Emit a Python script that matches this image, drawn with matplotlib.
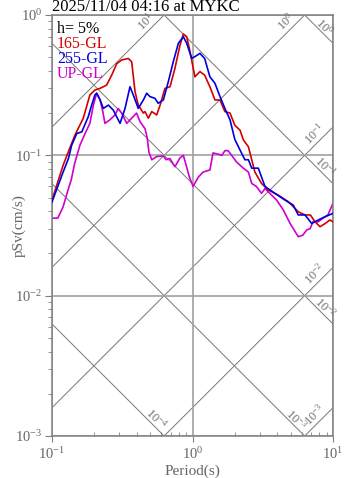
import numpy as np
import matplotlib
matplotlib.use("Agg")
import matplotlib.pyplot as plt
from matplotlib.ticker import LogLocator, LogFormatterMathtext, NullFormatter

plt.rcParams['font.family'] = 'serif'
plt.rcParams['font.serif'] = ['Liberation Serif', 'DejaVu Serif']
plt.rcParams['mathtext.fontset'] = 'custom'
plt.rcParams['mathtext.rm'] = 'Liberation Serif'

# 165-GL
t_red = [0.1, 0.12, 0.134, 0.146, 0.167, 0.186, 0.202, 0.22, 0.245, 0.266, 0.289,
         0.313, 0.349, 0.369, 0.39, 0.411, 0.447, 0.459, 0.485, 0.513, 0.556, 0.588,
         0.637, 0.692, 0.75, 0.815, 0.861, 0.91, 0.96, 1.04, 1.13, 1.22, 1.33, 1.445,
         1.57, 1.70, 1.85, 2.0, 2.18, 2.30, 2.5, 2.64, 2.78, 3.10, 3.47, 4.08, 4.81,
         5.66, 6.32, 6.9, 7.45, 8.08, 8.77, 9.5, 10.0]
sv_red = [0.048, 0.085, 0.113, 0.14, 0.184, 0.269, 0.292, 0.30, 0.317, 0.373, 0.45,
          0.478, 0.49, 0.465, 0.284, 0.228, 0.20, 0.205, 0.184, 0.205, 0.194, 0.228,
          0.30, 0.308, 0.417, 0.611, 0.732, 0.70, 0.548, 0.363, 0.395, 0.373, 0.308, 0.248,
          0.248, 0.205, 0.20, 0.164, 0.151, 0.129, 0.115, 0.093, 0.076, 0.063, 0.0566, 0.052, 0.0467,
          0.0396, 0.0376, 0.0376, 0.0336, 0.031, 0.0326, 0.0346, 0.0336]

# 255-GL
t_blue = [0.1, 0.12, 0.131, 0.138, 0.15, 0.163, 0.181, 0.19, 0.202, 0.208, 0.22,
          0.232, 0.252, 0.273, 0.305, 0.331, 0.359, 0.379, 0.411, 0.447, 0.472, 0.498,
          0.54, 0.57, 0.62, 0.673, 0.73, 0.793, 0.861, 0.91, 0.987, 1.04, 1.13, 1.22,
          1.33, 1.445, 1.57, 1.70, 1.85, 2.0, 2.18, 2.36, 2.5, 2.64, 2.94, 3.28, 3.86,
          4.55, 5.21, 5.66, 6.32, 7.05, 7.85, 8.77, 10.0]
sv_blue = [0.0465, 0.076, 0.095, 0.118, 0.143, 0.147, 0.188, 0.222, 0.269, 0.277, 0.248,
           0.216, 0.228, 0.21, 0.169, 0.216, 0.308, 0.269, 0.216, 0.248, 0.277, 0.262,
           0.255, 0.235, 0.248, 0.335, 0.465, 0.628, 0.70, 0.628, 0.491, 0.505, 0.533, 0.49,
           0.363, 0.326, 0.262, 0.216, 0.179, 0.13, 0.109, 0.093, 0.093, 0.081, 0.081, 0.06, 0.0536,
           0.048, 0.0442, 0.0376, 0.0376, 0.0327, 0.0346, 0.0365, 0.0386]

# UP-GL
t_mag = [0.1, 0.11, 0.12, 0.13, 0.137, 0.145, 0.158, 0.172, 0.186, 0.197, 0.208,
         0.22, 0.23, 0.238, 0.258, 0.281, 0.296, 0.313, 0.34, 0.369, 0.40, 0.423,
         0.459, 0.475, 0.49, 0.513, 0.556, 0.62, 0.65, 0.69, 0.75, 0.815, 0.861, 0.91,
         0.95, 1.01, 1.10, 1.19, 1.33, 1.40, 1.52, 1.62, 1.70, 1.79, 1.90, 2.05, 2.30,
         2.5, 2.64, 2.85, 3.10, 3.28, 3.55, 3.97, 4.43, 4.95, 5.66, 6.1, 6.5, 6.87,
         7.2, 7.85, 8.5, 9.2, 10.0]
sv_mag = [0.0357, 0.0357, 0.043, 0.0566, 0.0667, 0.0877, 0.118, 0.143, 0.169, 0.228, 0.277,
          0.248, 0.205, 0.169, 0.179, 0.194, 0.216, 0.20, 0.169, 0.184, 0.20, 0.174,
          0.155, 0.135, 0.105, 0.093, 0.098, 0.099, 0.093, 0.095, 0.083, 0.096, 0.10, 0.082,
          0.07, 0.06, 0.07, 0.076, 0.0786, 0.104, 0.102, 0.10, 0.108, 0.108, 0.10, 0.09, 0.081,
          0.076, 0.063, 0.06, 0.0536, 0.058, 0.0536, 0.048, 0.0408, 0.0327, 0.0263, 0.027, 0.0294, 0.030,
          0.0336, 0.0336, 0.0357, 0.0376, 0.0455]

names = ['165-GL', '255-GL', 'UP-GL']
colors = ['#d40000', '#0000e0', '#d000d0']

# tripartite guide levels: acceleration (gal) and displacement (cm)
sa_levels = [10.0, 1.0, 0.1, 0.01, 0.001]
sd_levels = [1.0, 0.1, 0.01, 0.001, 0.0001]
sa_text = ['10^{1}', '10^{0}', '10^{-1}', '10^{-2}', '10^{-3}']
sd_text = ['10^{0}', '10^{-1}', '10^{-2}', '10^{-3}', '10^{-4}']

gray = '#808080'
fig = plt.figure(figsize=(3.47, 4.78), dpi=100)
ax = fig.add_axes([52 / 347, 42 / 478, 281 / 347, 421 / 478])

tt = np.logspace(-1, 1, 200)
for sa, lab in zip(sa_levels, sa_text):
    ax.plot(tt, sa * tt / (2 * np.pi), color='#777777', lw=0.7, zorder=1)
    c = np.log10(sa / (2 * np.pi))
    ue = min(-c, 1.0)
    ve = ue + c
    ax.text(10 ** (ue - 0.13), 10 ** (ve - 0.05), r'$\mathdefault{%s}$' % lab,
            rotation=45, ha='center', va='center', fontsize=9, color='#707070')
for sd, lab in zip(sd_levels, sd_text):
    ax.plot(tt, 2 * np.pi * sd / tt, color='#777777', lw=0.7, zorder=1)
    d = np.log10(2 * np.pi * sd)
    ue = 1.0
    ve = d - 1.0
    if ve < -3:
        ve = -3.0
        ue = d + 3.0
    ax.text(10 ** (ue - 0.06), 10 ** (ve + 0.12), r'$\mathdefault{%s}$' % lab,
            rotation=-45, ha='center', va='center', fontsize=9, color='#707070')

ax.plot(t_red, sv_red, color=colors[0], lw=1.2, zorder=3)
ax.plot(t_blue, sv_blue, color=colors[1], lw=1.2, zorder=4)
ax.plot(t_mag, sv_mag, color=colors[2], lw=1.2, zorder=2)

ax.set_xscale('log')
ax.set_yscale('log')
ax.set_xlim(0.1, 10)
ax.set_ylim(1e-3, 1)

ax.grid(True, which='major', color='#a0a0a0', lw=1.2, zorder=0)
for s in ax.spines.values():
    s.set_color(gray)
    s.set_linewidth(1.1)

ax.xaxis.set_major_locator(LogLocator(base=10))
ax.yaxis.set_major_locator(LogLocator(base=10))
ax.xaxis.set_minor_locator(LogLocator(base=10, subs=np.arange(2, 10)))
ax.yaxis.set_minor_locator(LogLocator(base=10, subs=np.arange(2, 10)))
ax.xaxis.set_major_formatter(LogFormatterMathtext())
ax.yaxis.set_major_formatter(LogFormatterMathtext())
ax.xaxis.set_minor_formatter(NullFormatter())
ax.yaxis.set_minor_formatter(NullFormatter())
ax.tick_params(axis='y', which='major', direction='out', length=5, color=gray,
               labelcolor='#666666', labelsize=10.5, pad=2)
ax.tick_params(axis='y', which='minor', direction='out', length=3, color=gray)
ax.tick_params(axis='x', which='major', direction='out', length=4, color=gray,
               labelcolor='#666666', labelsize=10.5, pad=3)
ax.tick_params(axis='x', which='minor', direction='in', length=3, color=gray)

ax.set_xlabel('Period(s)', fontsize=11, color='#666666', labelpad=2)
ax.set_ylabel('pSv(cm/s)', fontsize=11, color='#666666')
ax.yaxis.set_label_coords(-0.095, 0.5)
ax.set_title('2025/11/04 04:16 at MYKC', loc='left', fontsize=12, pad=3)

ax.text(0.018, 0.957, 'h= 5%', transform=ax.transAxes, fontsize=11.5, color='black', va='baseline')
for i, (n, c) in enumerate(zip(names, colors)):
    ax.text(0.018, 0.9216 - 0.0356 * i, n, transform=ax.transAxes, fontsize=11.5,
            color=c, va='baseline', zorder=5)

fig.savefig('out.png', dpi=100)
